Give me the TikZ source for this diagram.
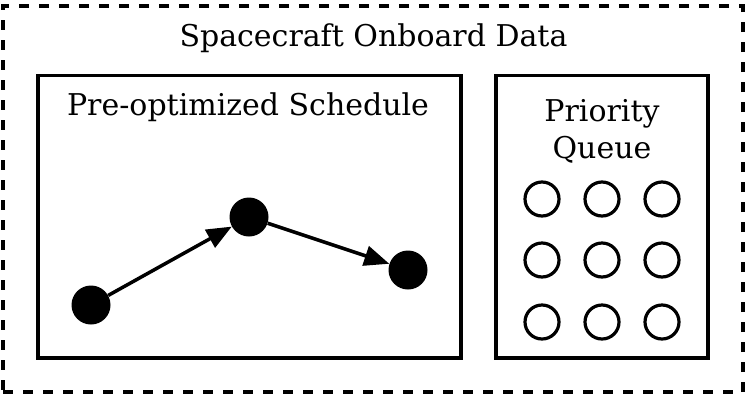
\documentclass[tikz,border=0pt]{standalone}
\usepackage{fontspec}
\setmainfont{DejaVu Serif}
\usetikzlibrary{arrows.meta}
\begin{document}
\begin{tikzpicture}[x=1pt,y=-1pt,
  lbl/.style={font=\fontsize{30}{36}\selectfont, inner sep=0pt, anchor=base},
  outerframe/.style={draw, line width=3.3pt, dash pattern=on 10pt off 10pt, inner sep=0pt},
  panel/.style={draw, line width=3.5pt, inner sep=0pt},
  dot/.style={circle, fill, minimum size=39pt, inner sep=0pt},
  slot/.style={circle, draw, line width=3.2pt, minimum size=34pt, inner sep=0pt},
  link/.style={line width=3.5pt, -{Triangle[length=25pt,width=20pt]}}]
\useasboundingbox (0,0) rectangle (746,397);

% containers
\node[outerframe, minimum width=740pt, minimum height=386pt] (data) at (373,199) {};
\node[panel, minimum width=423pt, minimum height=282.5pt] (sched) at (249.5,216.75) {};
\node[panel, minimum width=212pt, minimum height=282.5pt] (queue) at (602,216.75) {};

% labels
\node[lbl] (datalbl) at (373.5,46) {Spacecraft Onboard Data};
\node[lbl] (schedlbl) at (248,115) {Pre-optimized Schedule};
\node[lbl] (qlbl1) at (602,121) {Priority};
\node[lbl] (qlbl2) at (602,158) {Queue};

% schedule path
\node[dot] (s1) at (91,305) {};
\node[dot] (s2) at (249,217) {};
\node[dot] (s3) at (408,270) {};
\draw[link] (s1) -- (s2);
\draw[link] (s2) -- (s3);

% queue slots
\foreach \r/\y in {1/199,2/260,3/322}
  \foreach \c/\x in {1/542,2/602,3/662}
    \node[slot] (q\r\c) at (\x,\y) {};
\end{tikzpicture}
\end{document}
